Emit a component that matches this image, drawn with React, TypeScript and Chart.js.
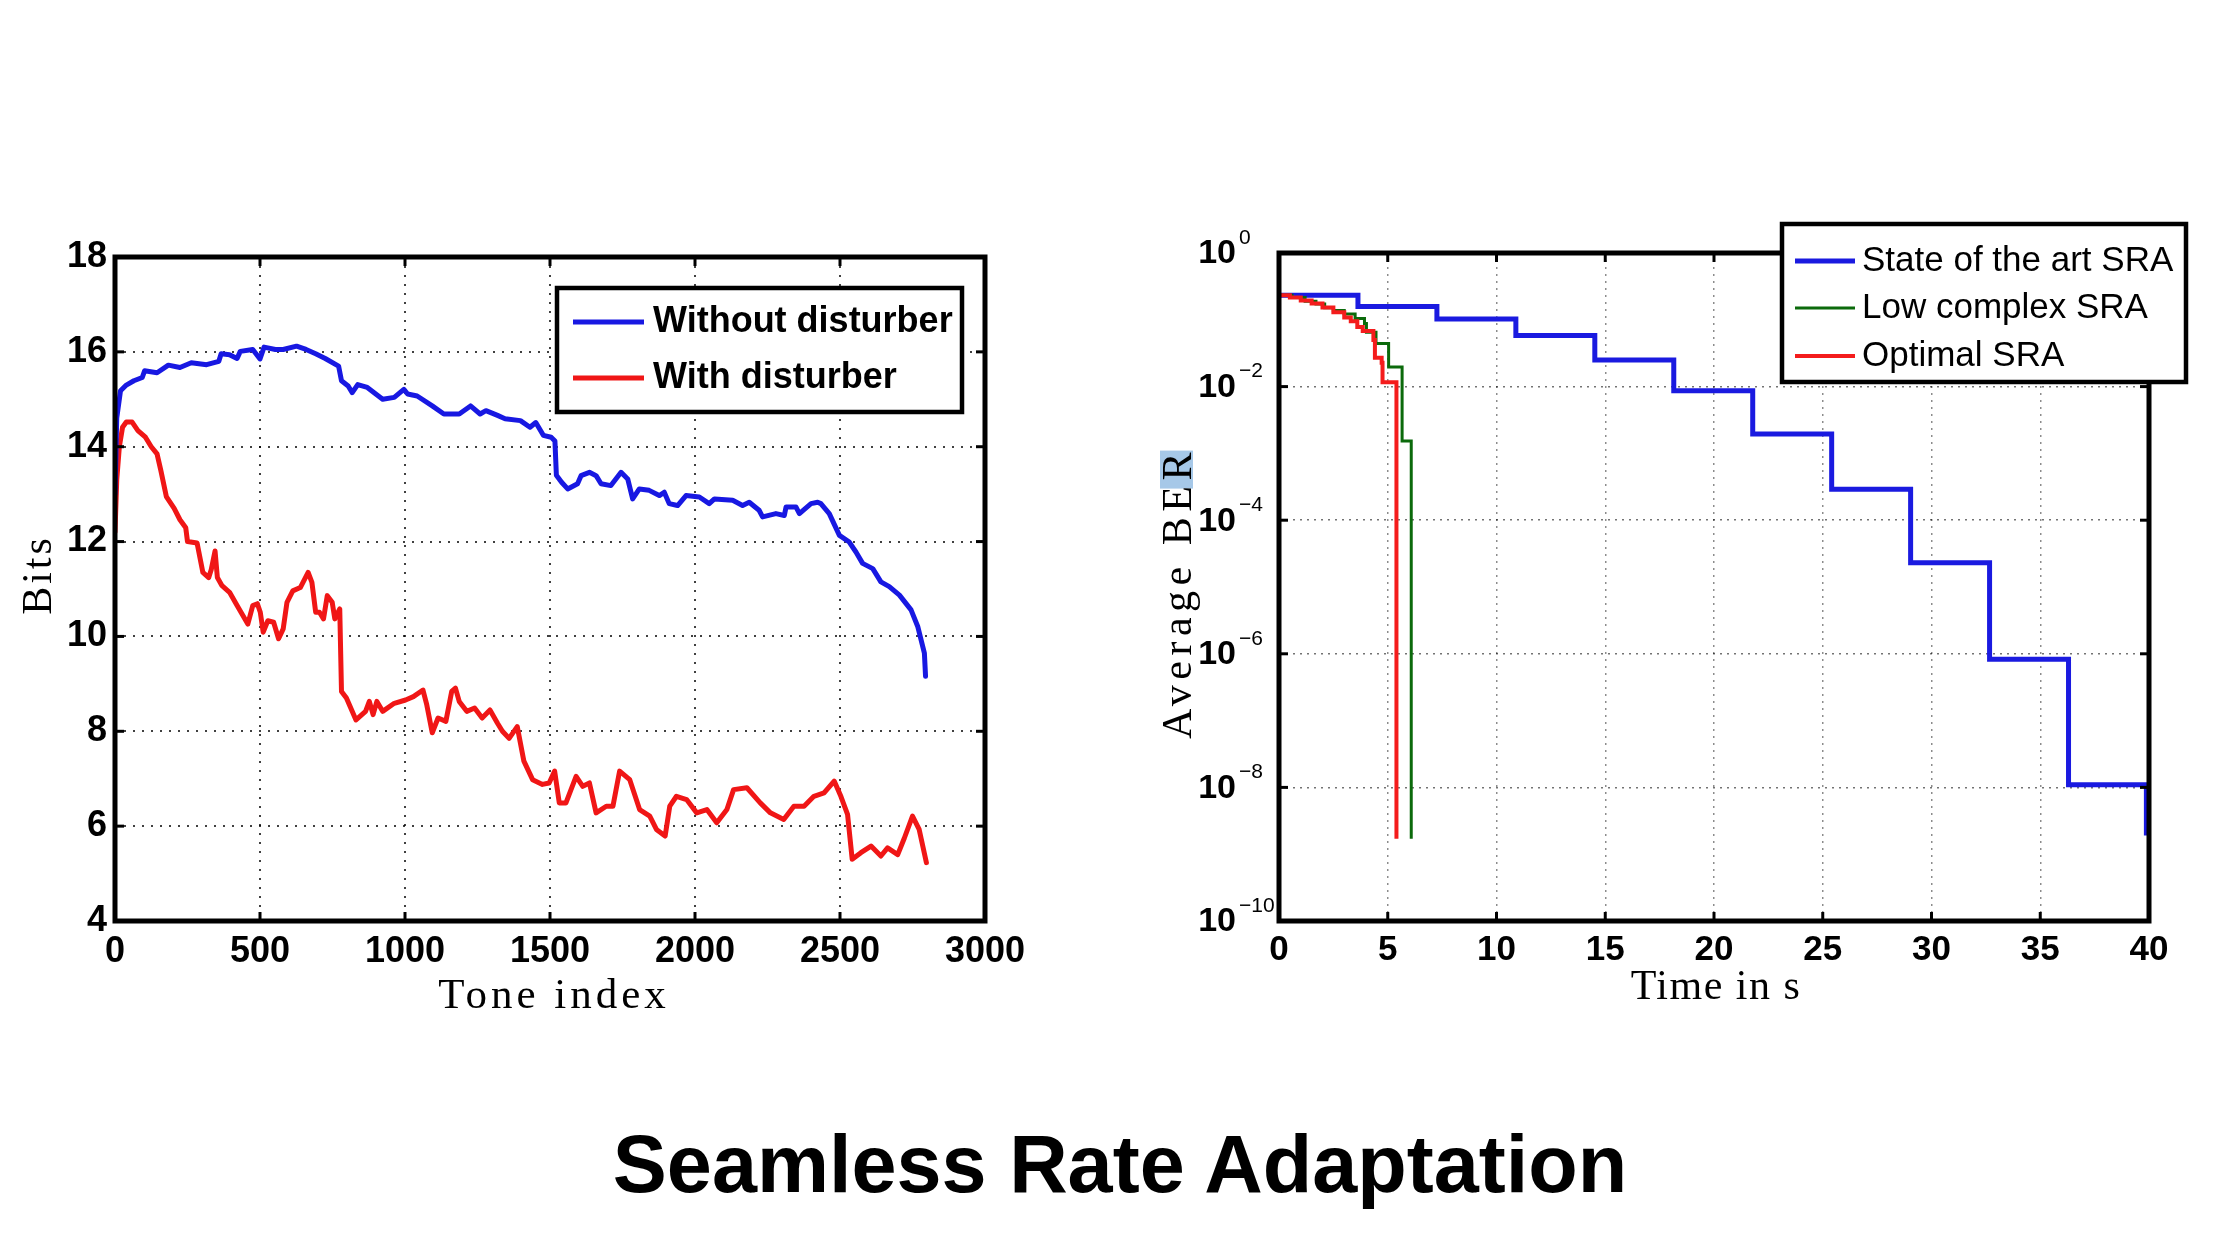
import React, { useEffect, useRef } from "react";
import { Chart, registerables } from "chart.js";

Chart.register(...registerables);

// ---------------- Left chart: Bits vs tone index ----------------
const leftXTicks = [0, 500, 1000, 1500, 2000, 2500, 3000];
const leftYTicks = [4, 6, 8, 10, 12, 14, 16, 18];
const leftSeriesNames = ["Without disturber", "With disturber"];
const leftXTitle = "Tone index";
const leftYTitle = "Bits";

const noDistTone = [
  0, 6, 19, 39, 65, 94, 102, 145, 184, 224, 263, 316, 358, 366, 395, 421, 432, 475, 500, 514,
  553, 580, 626, 659, 692, 725, 771, 781, 804, 818, 837, 870, 923, 963, 996, 1009, 1042, 1094, 1134, 1187,
  1226, 1259, 1279, 1319, 1345, 1398, 1431, 1451, 1477, 1504, 1517, 1522, 1540, 1561, 1595, 1607, 1636, 1659, 1676, 1710,
  1745, 1768, 1785, 1808, 1842, 1877, 1894, 1911, 1940, 1969, 2015, 2049, 2067, 2130, 2164, 2187, 2221, 2233, 2279, 2308,
  2314, 2348, 2360, 2400, 2423, 2434, 2463, 2498, 2532, 2555, 2578, 2613, 2641, 2670, 2705, 2745, 2768, 2791, 2795,
];
const noDistBits = [
  13.0, 14.6, 15.18, 15.3, 15.39, 15.46, 15.6, 15.56, 15.72, 15.67, 15.77, 15.73, 15.8, 15.96, 15.94, 15.86, 16.01, 16.05, 15.85, 16.1,
  16.05, 16.05, 16.12, 16.05, 15.96, 15.86, 15.7, 15.39, 15.28, 15.14, 15.31, 15.25, 15.0, 15.04, 15.21, 15.11, 15.07, 14.86, 14.69, 14.69,
  14.86, 14.69, 14.76, 14.66, 14.59, 14.55, 14.41, 14.51, 14.24, 14.2, 14.12, 13.4, 13.25, 13.11, 13.22, 13.39, 13.46, 13.39, 13.22, 13.18,
  13.46, 13.32, 12.9, 13.11, 13.08, 12.97, 13.04, 12.8, 12.76, 12.97, 12.94, 12.8, 12.9, 12.87, 12.76, 12.83, 12.66, 12.52, 12.59, 12.55,
  12.73, 12.73, 12.59, 12.8, 12.83, 12.8, 12.59, 12.13, 11.99, 11.78, 11.54, 11.43, 11.15, 11.05, 10.87, 10.56, 10.21, 9.65, 9.16,
];

const distTone = [
  0, 6, 15, 26, 39, 59, 79, 105, 125, 145, 158, 177, 204, 224, 244, 250, 283, 303, 323, 332,
  345, 353, 369, 395, 421, 441, 458, 475, 491, 501, 511, 527, 547, 564, 580, 593, 613, 639, 666, 679,
  692, 705, 719, 732, 749, 758, 775, 781, 798, 831, 864, 877, 890, 903, 923, 963, 1002, 1029, 1062, 1075,
  1094, 1114, 1141, 1161, 1174, 1187, 1213, 1240, 1266, 1293, 1319, 1336, 1359, 1387, 1410, 1440, 1474, 1497, 1516, 1532,
  1555, 1590, 1613, 1636, 1659, 1694, 1717, 1740, 1775, 1809, 1844, 1867, 1897, 1913, 1936, 1971, 2006, 2041, 2075, 2110,
  2133, 2179, 2225, 2260, 2306, 2341, 2376, 2410, 2445, 2480, 2503, 2526, 2542, 2572, 2607, 2641, 2664, 2699, 2722, 2750,
  2773, 2798,
];
const distBits = [
  12.2, 13.3, 14.0, 14.41, 14.52, 14.52, 14.34, 14.2, 14.0, 13.85, 13.5, 12.95, 12.7, 12.46, 12.29, 12.0, 11.97, 11.35, 11.24, 11.41,
  11.8, 11.24, 11.07, 10.93, 10.65, 10.44, 10.26, 10.65, 10.69, 10.51, 10.09, 10.33, 10.3, 9.95, 10.16, 10.72, 10.96, 11.03, 11.35, 11.14,
  10.51, 10.51, 10.37, 10.86, 10.72, 10.37, 10.58, 8.84, 8.7, 8.24, 8.42, 8.63, 8.35, 8.63, 8.42, 8.59, 8.66, 8.73, 8.87, 8.56,
  7.97, 8.28, 8.21, 8.84, 8.91, 8.63, 8.42, 8.49, 8.28, 8.45, 8.17, 8.0, 7.85, 8.1, 7.37, 6.98, 6.88, 6.91, 7.16, 6.49,
  6.49, 7.05, 6.84, 6.91, 6.28, 6.42, 6.42, 7.16, 6.98, 6.35, 6.21, 5.93, 5.79, 6.42, 6.63, 6.56, 6.28, 6.35, 6.07, 6.35,
  6.77, 6.81, 6.49, 6.28, 6.14, 6.42, 6.42, 6.63, 6.7, 6.95, 6.63, 6.25, 5.3, 5.44, 5.58, 5.37, 5.54, 5.4, 5.75, 6.21,
  5.93, 5.23,
];

// ---------------- Right chart: Average BER vs time ----------------
const timeTicks = [0, 5, 10, 15, 20, 25, 30, 35, 40];
const berTicks = [1e-10, 1e-8, 1e-6, 1e-4, 1e-2, 1];
const rightSeriesNames = ["State of the art SRA", "Low complex SRA", "Optimal SRA"];
const rightXTitle = "Time in s";
const rightYTitle = "Average BER";

const sotaTime = [0, 3.63, 7.26, 10.89, 14.52, 18.15, 21.78, 25.41, 29.04, 32.67, 36.3, 39.88];
const sotaBer = [0.234, 0.158, 0.103, 0.058, 0.025, 0.0087, 0.00195, 2.9e-4, 2.3e-5, 8.3e-7, 1.1e-8, 1.9e-9];

const lowTime = [0, 0.6, 1.2, 1.7, 2.1, 2.5, 3.0, 3.5, 3.93, 4.02, 4.46, 5.04, 5.66, 6.08];
const lowBer = [0.234, 0.215, 0.19, 0.172, 0.152, 0.138, 0.122, 0.105, 0.088, 0.065, 0.044, 0.0196, 0.00153, 1.7e-9];

const optTime = [0, 0.5, 1.0, 1.5, 2.0, 2.5, 3.0, 3.3, 3.6, 3.85, 4.34, 4.41, 4.72, 4.76, 5.4];
const optBer = [0.234, 0.215, 0.195, 0.175, 0.153, 0.13, 0.108, 0.095, 0.078, 0.068, 0.05, 0.027, 0.0227, 0.0116, 1.7e-9];

const pageTitle = "Seamless Rate Adaptation";

// ---------------- helpers ----------------
const toPoints = (xs: number[], ys: number[]) => xs.map((x, i) => ({ x, y: ys[i] }));
const SERIF = '"Liberation Serif", "Times New Roman", serif';
const SANS = '"Liberation Sans", Arial, sans-serif';

type TitleSpec = { text: string; x: number; y: number; rotate: boolean; spacing: number; size: number; highlightEnd?: boolean };
type LegendSpec = { x: number; y: number; w: number; h: number; x0: number; x1: number; textX: number; rows: number[]; font: string; border: number };

function decorPlugin(cfg: {
  id: string;
  tickLen: number;
  tickWidth: number;
  frameWidth: number;
  legend: LegendSpec;
  titles: TitleSpec[];
  logLabels?: { baseRight: number; baseFont: string; expFont: string; expRise: number };
}) {
  return {
    id: cfg.id,
    afterDraw(chart: any) {
      const ctx = chart.ctx as CanvasRenderingContext2D;
      const a = chart.chartArea;
      const xs = chart.scales.x;
      const ys = chart.scales.y;
      ctx.save();
      ctx.setLineDash([]);
      ctx.strokeStyle = "#000";
      ctx.lineWidth = cfg.tickWidth;
      const seg = (x0: number, y0: number, x1: number, y1: number) => {
        ctx.beginPath();
        ctx.moveTo(x0, y0);
        ctx.lineTo(x1, y1);
        ctx.stroke();
      };
      xs.ticks.forEach((t: any) => {
        const px = xs.getPixelForValue(t.value);
        seg(px, a.bottom, px, a.bottom - cfg.tickLen);
        seg(px, a.top, px, a.top + cfg.tickLen);
      });
      ys.ticks.forEach((t: any) => {
        const py = ys.getPixelForValue(t.value);
        seg(a.left, py, a.left + cfg.tickLen, py);
        seg(a.right, py, a.right - cfg.tickLen, py);
      });
      // frame
      ctx.lineWidth = cfg.frameWidth;
      ctx.strokeRect(a.left, a.top, a.right - a.left, a.bottom - a.top);

      // log tick labels 10^n
      if (cfg.logLabels) {
        const L = cfg.logLabels;
        ys.ticks.forEach((t: any) => {
          const py = ys.getPixelForValue(t.value);
          const e = Math.round(Math.log10(t.value));
          ctx.fillStyle = "#000";
          ctx.font = L.baseFont;
          ctx.textAlign = "right";
          ctx.textBaseline = "middle";
          ctx.fillText("10", L.baseRight, py + 1);
          ctx.font = L.expFont;
          ctx.textAlign = "left";
          ctx.fillText(String(e).replace("-", "\u2212"), L.baseRight + 3, py - L.expRise);
        });
      }

      // legend
      const lg = cfg.legend;
      ctx.fillStyle = "#fff";
      ctx.fillRect(lg.x, lg.y, lg.w, lg.h);
      ctx.lineWidth = lg.border;
      ctx.strokeStyle = "#000";
      ctx.strokeRect(lg.x, lg.y, lg.w, lg.h);
      chart.data.datasets.forEach((ds: any, i: number) => {
        const y = lg.rows[i];
        ctx.strokeStyle = ds.borderColor;
        ctx.lineWidth = ds.borderWidth;
        ctx.lineCap = "butt";
        seg(lg.x0, y, lg.x1, y);
        ctx.fillStyle = "#000";
        ctx.font = lg.font;
        ctx.textAlign = "left";
        ctx.textBaseline = "middle";
        ctx.fillText(ds.label, lg.textX, y);
      });

      // axis titles
      cfg.titles.forEach((t) => {
        ctx.save();
        ctx.font = `${t.size}px ${SERIF}`;
        (ctx as any).letterSpacing = `${t.spacing}px`;
        ctx.fillStyle = "#000";
        ctx.textBaseline = "alphabetic";
        ctx.textAlign = "center";
        ctx.translate(t.x, t.y);
        if (t.rotate) ctx.rotate(-Math.PI / 2);
        if (t.highlightEnd) {
          const w = ctx.measureText(t.text).width;
          ctx.fillStyle = "rgba(150,190,228,0.85)";
          ctx.fillRect(w / 2 - t.spacing - 36, -31, 38, 33);
          ctx.fillStyle = "#000";
        }
        ctx.fillText(t.text, 0, 0);
        ctx.restore();
      });
      ctx.restore();
    },
  };
}

const tickFont = { family: '"Liberation Sans", Arial, sans-serif', size: 36, weight: "bold" as const };

function leftConfig(): any {
  return {
    type: "line",
    data: {
      datasets: [
        {
          label: leftSeriesNames[0],
          data: toPoints(noDistTone, noDistBits),
          borderColor: "#1818e2",
          borderWidth: 5,
          pointRadius: 0,
          borderJoinStyle: "round",
          borderCapStyle: "round",
          order: 0,
        },
        {
          label: leftSeriesNames[1],
          data: toPoints(distTone, distBits),
          borderColor: "#f01616",
          borderWidth: 5,
          pointRadius: 0,
          borderJoinStyle: "round",
          borderCapStyle: "round",
          order: 1,
        },
      ],
    },
    options: {
      responsive: false,
      animation: false,
      events: [],
      layout: { padding: { left: 0, top: 107, right: 125, bottom: 0 } },
      plugins: { legend: { display: false }, tooltip: { enabled: false }, title: { display: false } },
      scales: {
        x: {
          type: "linear",
          min: 0,
          max: 3000,
          afterBuildTicks: (s: any) => {
            s.ticks = leftXTicks.map((v) => ({ value: v }));
          },
          afterFit: (s: any) => {
            s.height = 129;
          },
          grid: { color: "rgba(0,0,0,0.75)", lineWidth: 2, drawTicks: false },
          border: { display: false, dash: [2, 7] },
          ticks: { font: tickFont, color: "#000", padding: 9, maxRotation: 0, autoSkip: false, callback: (v: any) => String(v) },
        },
        y: {
          type: "linear",
          min: 4,
          max: 18,
          afterBuildTicks: (s: any) => {
            s.ticks = leftYTicks.map((v) => ({ value: v }));
          },
          afterFit: (s: any) => {
            s.width = 115;
          },
          grid: { color: "rgba(0,0,0,0.75)", lineWidth: 2, drawTicks: false },
          border: { display: false, dash: [2, 7] },
          ticks: { font: tickFont, color: "#000", padding: 8, autoSkip: false, callback: (v: any) => String(v) },
        },
      },
    },
    plugins: [
      decorPlugin({
        id: "decorLeft",
        tickLen: 9,
        tickWidth: 3,
        frameWidth: 5,
        legend: { x: 557, y: 138, w: 405, h: 124, x0: 573, x1: 644, textX: 653, rows: [172, 228], font: `bold 36px ${SANS}`, border: 4.5 },
        titles: [
          { text: leftYTitle, x: 51, y: 425, rotate: true, spacing: 3, size: 42 },
          { text: leftXTitle, x: 554, y: 858, rotate: false, spacing: 4, size: 43 },
        ],
      }),
    ],
  };
}

function rightConfig(): any {
  const common = { pointRadius: 0, stepped: "before", borderJoinStyle: "miter", fill: false };
  return {
    type: "line",
    data: {
      datasets: [
        { ...common, label: rightSeriesNames[0], data: toPoints(sotaTime, sotaBer), borderColor: "#1a1ae0", borderWidth: 5, order: 2 },
        { ...common, label: rightSeriesNames[1], data: toPoints(lowTime, lowBer), borderColor: "#0b6a0b", borderWidth: 3, order: 1 },
        { ...common, label: rightSeriesNames[2], data: toPoints(optTime, optBer), borderColor: "#f41c1c", borderWidth: 4, order: 0 },
      ],
    },
    options: {
      responsive: false,
      animation: false,
      events: [],
      layout: { padding: { left: 0, top: 103, right: 91, bottom: 0 } },
      plugins: { legend: { display: false }, tooltip: { enabled: false }, title: { display: false } },
      scales: {
        x: {
          type: "linear",
          min: 0,
          max: 40,
          afterBuildTicks: (s: any) => {
            s.ticks = timeTicks.map((v) => ({ value: v }));
          },
          afterFit: (s: any) => {
            s.height = 129;
          },
          grid: { color: "rgba(0,0,0,0.45)", lineWidth: 1.5, drawTicks: false },
          border: { display: false, dash: [2, 5] },
          ticks: { font: { ...tickFont, size: 35 }, color: "#000", padding: 8, maxRotation: 0, autoSkip: false, callback: (v: any) => String(v) },
        },
        y: {
          type: "logarithmic",
          min: 1e-10,
          max: 1,
          afterBuildTicks: (s: any) => {
            s.ticks = berTicks.map((v) => ({ value: v }));
          },
          afterFit: (s: any) => {
            s.width = 149;
          },
          grid: { color: "rgba(0,0,0,0.55)", lineWidth: 1.5, drawTicks: false },
          border: { display: false, dash: [2, 5] },
          ticks: { display: false },
        },
      },
    },
    plugins: [
      decorPlugin({
        id: "decorRight",
        tickLen: 9,
        tickWidth: 3,
        frameWidth: 5,
        legend: { x: 652, y: 74, w: 404, h: 158, x0: 665, x1: 725, textX: 732, rows: [111, 158, 206], font: `35px ${SANS}`, border: 4.5 },
        titles: [
          { text: rightYTitle, x: 61, y: 443, rotate: true, spacing: 5.5, size: 42, highlightEnd: true },
          { text: rightXTitle, x: 586, y: 849, rotate: false, spacing: 1.5, size: 42 },
        ],
        logLabels: { baseRight: 106, baseFont: `bold 34px ${SANS}`, expFont: `21px ${SANS}`, expRise: 15 },
      }),
    ],
  };
}

export default function App() {
  const leftRef = useRef<HTMLCanvasElement>(null);
  const rightRef = useRef<HTMLCanvasElement>(null);

  useEffect(() => {
    const c1 = new Chart(leftRef.current as HTMLCanvasElement, leftConfig());
    const c2 = new Chart(rightRef.current as HTMLCanvasElement, rightConfig());
    return () => {
      c1.destroy();
      c2.destroy();
    };
  }, []);

  return (
    <div style={{ position: "absolute", left: 0, top: 0, width: 2240, height: 1260, background: "#fff", overflow: "hidden" }}>
      <canvas ref={leftRef} width={1110} height={900} style={{ position: "absolute", left: 0, top: 150, width: 1110, height: 900 }} />
      <canvas ref={rightRef} width={1110} height={900} style={{ position: "absolute", left: 1130, top: 150, width: 1110, height: 900 }} />
      <div
        style={{
          position: "absolute",
          left: 0,
          top: 1124,
          width: 2240,
          textAlign: "center",
          fontFamily: SANS,
          fontWeight: "bold",
          fontSize: 81,
          lineHeight: "81px",
          color: "#000",
        }}
      >
        {pageTitle}
      </div>
    </div>
  );
}
